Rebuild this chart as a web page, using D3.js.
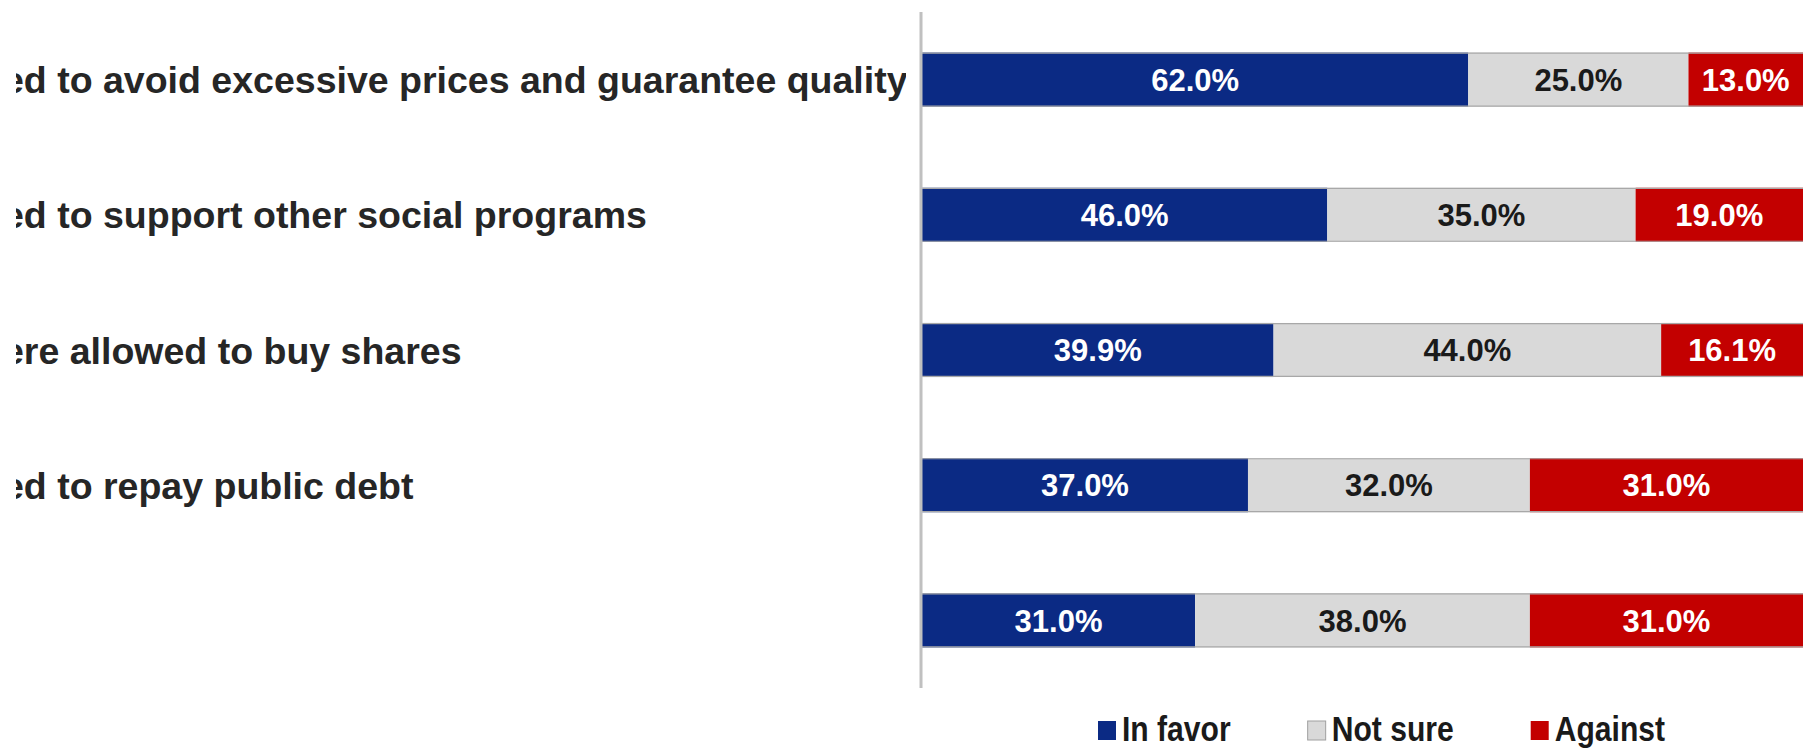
<!DOCTYPE html>
<html>
<head>
<meta charset="utf-8">
<script src="https://cdn.jsdelivr.net/npm/d3@7"></script>
<style>
  html, body { margin: 0; padding: 0; background: #ffffff; }
  svg { display: block; }
</style>
</head>
<body>
<svg id="chart" width="1804" height="748"></svg>
<script>
// Survey statements (the text column is clipped on its left side)
const categories = [
  "ed to avoid excessive prices and guarantee quality",
  "ed to support other social programs",
  "ere allowed to buy shares",
  "ed to repay public debt",
  ""
];
const seriesNames = ["In favor", "Not sure", "Against"];
const inFavor = [62.0, 46.0, 39.9, 37.0, 31.0];
const notSure = [25.0, 35.0, 44.0, 32.0, 38.0];
const against = [13.0, 19.0, 16.1, 31.0, 31.0];

const colors = ["#0b2a84", "#d9d9d9", "#c30000"];
const labelColors = ["#ffffff", "#1a1a1a", "#ffffff"];

const W = 1804, H = 748;
const svg = d3.select("#chart");

const rows = categories.map((c, i) => ({
  key: i, label: c,
  "In favor": inFavor[i], "Not sure": notSure[i], "Against": against[i]
}));

const x = d3.scaleLinear().domain([0, 100]).range([922, 1803]);
const y = d3.scaleBand()
  .domain(rows.map(d => d.key))
  .range([12, 688])
  .paddingInner(0.6)
  .paddingOuter(0.3);

const stacked = d3.stack().keys(seriesNames)(rows);

// Category labels, clipped at the left edge of the label column
svg.append("defs").append("clipPath").attr("id", "labelClip")
  .append("rect").attr("x", 16).attr("y", 0).attr("width", 890).attr("height", H);

svg.append("g").attr("clip-path", "url(#labelClip)")
  .selectAll("text").data(rows).join("text")
  .attr("x", 3)
  .attr("y", d => y(d.key) + y.bandwidth() / 2)
  .attr("dy", "0.36em")
  .attr("font-family", "'Liberation Sans', Arial, sans-serif")
  .attr("font-weight", "bold")
  .attr("font-size", 37.5)
  .attr("fill", "#262626")
  .text(d => d.label);

// Stacked bar segments
const layers = svg.append("g").selectAll("g").data(stacked).join("g")
  .attr("fill", (d, i) => colors[i]);

layers.selectAll("rect").data(d => d).join("rect")
  .attr("x", d => x(d[0]))
  .attr("y", d => y(d.data.key))
  .attr("width", d => x(d[1]) - x(d[0]))
  .attr("height", y.bandwidth());

// Thin grey edges along the top and bottom of each bar
const edges = svg.append("g").attr("stroke", "#a8a8a8").attr("stroke-width", 1.2);
rows.forEach(d => {
  [y(d.key) + 0.6, y(d.key) + y.bandwidth() - 0.6].forEach(yy => {
    edges.append("line")
      .attr("x1", x(0)).attr("x2", x(100))
      .attr("y1", yy).attr("y2", yy);
  });
});

// Value labels centred in each segment
stacked.forEach((layer, li) => {
  svg.append("g").selectAll("text").data(layer).join("text")
    .attr("x", d => (x(d[0]) + x(d[1])) / 2)
    .attr("y", d => y(d.data.key) + y.bandwidth() / 2)
    .attr("dy", "0.36em")
    .attr("text-anchor", "middle")
    .attr("font-family", "'Liberation Sans', Arial, sans-serif")
    .attr("font-weight", "bold")
    .attr("font-size", 31)
    .attr("fill", labelColors[li])
    .text(d => (d[1] - d[0]).toFixed(1) + "%");
});

// Category axis line
svg.append("line")
  .attr("x1", x(0) - 1).attr("x2", x(0) - 1)
  .attr("y1", y.range()[0]).attr("y2", y.range()[1])
  .attr("stroke", "#c0c0c0").attr("stroke-width", 3);

// Legend (narrow bold type, made by compressing the glyphs horizontally)
const narrow = 0.86;
const legend = svg.append("g").attr("transform", "translate(1098,0)");
let lx = 0;
seriesNames.forEach((name, i) => {
  const g = legend.append("g").attr("transform", `translate(${lx},0)`);
  g.append("rect")
    .attr("x", 0).attr("y", 721).attr("width", 18).attr("height", 19)
    .attr("fill", colors[i])
    .attr("stroke", i === 1 ? "#a0a0a0" : "none").attr("stroke-width", 1);
  const t = g.append("text")
    .attr("transform", `translate(24,741) scale(${narrow},1)`)
    .attr("font-family", "'Liberation Sans', Arial, sans-serif")
    .attr("font-weight", "bold")
    .attr("font-size", 35)
    .attr("fill", "#1a1a1a")
    .text(name);
  lx += 24 + t.node().getComputedTextLength() * narrow + 77;
});
</script>
</body>
</html>
